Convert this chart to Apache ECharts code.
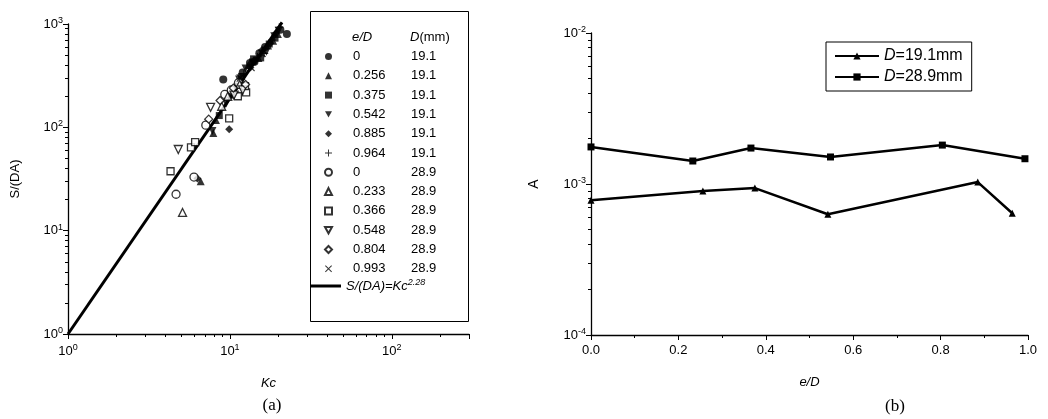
<!DOCTYPE html>
<html>
<head>
<meta charset="utf-8">
<script src="https://cdn.jsdelivr.net/npm/echarts@6/dist/echarts.min.js"></script>
<style>
  html, body { margin: 0; padding: 0; background: #fff; }
  #main { width: 1048px; height: 419px; }
</style>
</head>
<body>
<div id="main"></div>
<script>
// (a) S/(DA) vs Kc, one array of [Kc, S/(DA)] per e/D case
var filledCircle = [[22.5, 800], [9.1, 290], [16.5, 600], [12.0, 340], [14.2, 430], [20.5, 880], [13.3, 420], [15.2, 520]];
var filledTri = [[6.6, 30], [7.9, 88], [18.5, 690], [15.0, 470], [10.5, 230], [17.2, 620], [13.0, 400], [19.8, 800], [16.0, 560], [8.2, 118]];
var filledSquare = [[15.5, 470], [11.8, 310], [19.0, 730], [13.8, 430], [8.6, 130], [17.5, 640], [10.2, 205], [14.0, 460]];
var filledTriDown = [[16.8, 540], [20.0, 860], [12.5, 370], [9.5, 170], [14.6, 440], [18.8, 760], [11.4, 290], [7.8, 92]];
var filledDiamond = [[9.9, 96], [6.3, 32], [13.4, 380], [17.8, 650], [11.0, 250], [15.8, 560], [19.3, 820]];
var plusPts = [[18.2, 700], [10.8, 220], [14.8, 480], [12.2, 330], [16.3, 520], [20.2, 930]];
var openCircle = [[9.3, 208], [7.1, 105], [6.0, 33], [4.65, 22.5], [10.2, 230], [11.3, 270]];
var openTri = [[5.1, 15], [11.5, 260], [9.7, 200], [8.9, 160]];
var openSquare = [[12.6, 218], [12.4, 250], [9.9, 122], [5.75, 64], [6.1, 72], [4.3, 37.6], [11.2, 200]];
var openTriDown = [[7.6, 156], [4.8, 61], [10.6, 205], [12.0, 230]];
var openDiamond = [[8.7, 182], [7.4, 120], [10.5, 240], [12.5, 260]];
var crossPts = [[13.5, 380], [15.8, 520], [11.6, 300]];
var fitLine = [[1, 1], [21, 1035]];

// legend table rows: e/D, D(mm)
var legendED = ['0', '0.256', '0.375', '0.542', '0.885', '0.964', '0', '0.233', '0.366', '0.548', '0.804', '0.993'];
var legendD = ['19.1', '19.1', '19.1', '19.1', '19.1', '19.1', '28.9', '28.9', '28.9', '28.9', '28.9', '28.9'];

// (b) A vs e/D
var eD19 = [0, 0.256, 0.375, 0.542, 0.885, 0.964];
var A19 = [7.8e-4, 9.0e-4, 9.4e-4, 6.3e-4, 1.03e-3, 6.4e-4];
var eD28 = [0, 0.233, 0.366, 0.548, 0.804, 0.993];
var A28 = [1.76e-3, 1.42e-3, 1.73e-3, 1.51e-3, 1.81e-3, 1.47e-3];

var FONT = 'Liberation Sans, Arial, sans-serif';

function minorLog(lo, hi) { // 2..9 of each decade
    var out = [];
    for (var d = lo; d < hi; d *= 10) {
        for (var k = 2; k <= 9; k++) {
            var v = +(k * d).toPrecision(3);
            if (v < hi) out.push(v);
        }
    }
    return out;
}

function powLabel(v) {
    var e = Math.round(Math.log10(v));
    if (Math.abs(Math.log10(v) - e) > 1e-6) return '';
    return '10{s|' + e + '}';
}

var supRich = { s: { fontSize: 9, fontFamily: FONT, color: '#000', padding: [0, 0, 7, 0] } };

var plusPath = 'path://M4.3,0H5.7V4.3H10V5.7H5.7V10H4.3V5.7H0V4.3H4.3Z';
var crossPath = 'path://M1,0L5,4L9,0L10,1L6,5L10,9L9,10L5,6L1,10L0,9L4,5L0,1Z';
var triDownPath = 'path://M0,0L10,0L5,9Z';

function scatterSeries(idx, data, symbol, filled) {
    return {
        name: legendED[idx] + '|' + legendD[idx],
        type: 'scatter',
        xAxisIndex: 0, yAxisIndex: 0,
        data: data,
        symbol: symbol,
        symbolSize: (symbol === 'rect') ? 7 : 8,
        itemStyle: filled ? { color: '#000' } : { color: '#fff', borderColor: '#000', borderWidth: 1.3 }
    };
}

var myChart = echarts.init(document.getElementById('main'), null, { renderer: 'canvas' });

var axisLine = { show: true, lineStyle: { color: '#000', width: 1.3 } };
var axisLabelStyle = { color: '#000', fontSize: 13, fontFamily: FONT };

myChart.setOption({
    animation: false,
    backgroundColor: '#fff',
    grid: [
        { left: 68, top: 24, width: 401, height: 310 },
        { left: 591, top: 33, width: 437, height: 302 }
    ],
    xAxis: [
        {
            gridIndex: 0, type: 'log', logBase: 10, min: 1, max: 300, position: 'bottom',
            name: 'Kc', nameLocation: 'middle', nameGap: 43,
            nameTextStyle: { color: '#000', fontSize: 13, fontStyle: 'italic', fontFamily: FONT },
            axisLine: axisLine,
            axisTick: { show: true, length: 5, lineStyle: { color: '#000' } },
            axisLabel: Object.assign({ formatter: powLabel, rich: supRich, margin: 9 }, axisLabelStyle),
            splitLine: { show: false }
        },
        {
            gridIndex: 0, type: 'log', logBase: 10, min: 1, max: 300, position: 'bottom',
            axisLine: { show: false },
            axisTick: { show: true, length: 3, customValues: minorLog(1, 300), lineStyle: { color: '#000' } },
            axisLabel: { show: false }, splitLine: { show: false }
        },
        {
            gridIndex: 1, type: 'value', min: 0, max: 1, interval: 0.2, position: 'bottom',
            name: 'e/D', nameLocation: 'middle', nameGap: 41,
            nameTextStyle: { color: '#000', fontSize: 13, fontStyle: 'italic', fontFamily: FONT },
            axisLine: axisLine,
            axisTick: { show: true, length: 5, lineStyle: { color: '#000' } },
            minorTick: { show: true, splitNumber: 2, length: 3, lineStyle: { color: '#000' } },
            axisLabel: Object.assign({ formatter: function (v) { return v.toFixed(1); }, margin: 9 }, axisLabelStyle),
            splitLine: { show: false }
        }
    ],
    yAxis: [
        {
            gridIndex: 0, type: 'log', logBase: 10, min: 1, max: 1000, position: 'left',
            name: 'S/(DA)', nameLocation: 'middle', nameGap: 46, nameRotate: 90,
            nameTextStyle: { color: '#000', fontSize: 13, fontFamily: FONT },
            axisLine: axisLine,
            axisTick: { show: true, length: 5, lineStyle: { color: '#000' } },
            axisLabel: Object.assign({ formatter: powLabel, rich: supRich, margin: 5 }, axisLabelStyle),
            splitLine: { show: false }
        },
        {
            gridIndex: 0, type: 'log', logBase: 10, min: 1, max: 1000, position: 'left',
            axisLine: { show: false },
            axisTick: { show: true, length: 3, customValues: minorLog(1, 1000), lineStyle: { color: '#000' } },
            axisLabel: { show: false }, splitLine: { show: false }
        },
        {
            gridIndex: 1, type: 'log', logBase: 10, min: 1e-4, max: 1e-2, position: 'left',
            name: 'A', nameLocation: 'middle', nameGap: 50, nameRotate: 90,
            nameTextStyle: { color: '#000', fontSize: 14, fontFamily: FONT },
            axisLine: axisLine,
            axisTick: { show: true, length: 5, lineStyle: { color: '#000' } },
            axisLabel: Object.assign({ formatter: powLabel, rich: supRich, margin: 5 }, axisLabelStyle),
            splitLine: { show: false }
        },
        {
            gridIndex: 1, type: 'log', logBase: 10, min: 1e-4, max: 1e-2, position: 'left',
            axisLine: { show: false },
            axisTick: { show: true, length: 3, customValues: minorLog(1e-4, 1e-2), lineStyle: { color: '#000' } },
            axisLabel: { show: false }, splitLine: { show: false }
        }
    ],
    legend: [
        {
            orient: 'vertical', left: 324, top: 50, padding: 0,
            itemWidth: 7, itemHeight: 7, itemGap: 6.3,
            selectedMode: false,
            data: legendED.map(function (e, i) { return e + '|' + legendD[i]; }),
            formatter: function (name) {
                var p = name.split('|');
                return '{p| }{v|' + p[0] + '}{d|' + p[1] + '}';
            },
            textStyle: {
                color: '#000', fontSize: 13, fontFamily: FONT,
                rich: {
                    p: { width: 16, lineHeight: 14 },
                    v: { width: 58, fontSize: 13, lineHeight: 14, fontFamily: FONT },
                    d: { fontSize: 13, lineHeight: 14, fontFamily: FONT }
                }
            }
        },
        {
            orient: 'vertical', left: 311, top: 278, padding: 0,
            itemWidth: 30, itemHeight: 3,
            selectedMode: false,
            data: [{ name: 'fit', icon: 'rect' }],
            formatter: function () { return 'S/(DA)=Kc{s|2.28}'; },
            textStyle: {
                color: '#000', fontSize: 13, fontStyle: 'italic', fontFamily: FONT,
                rich: { s: { fontSize: 9, fontFamily: FONT, padding: [0, 0, 7, 0] } }
            }
        },
        {
            orient: 'vertical', left: 826, top: 42,
            itemWidth: 44, itemHeight: 9, itemGap: 5,
            padding: [6, 9, 6, 8],
            borderColor: '#000', borderWidth: 1,
            selectedMode: false,
            data: ['D=19.1mm', 'D=28.9mm'],
            formatter: function (name) { return '{i|D}' + name.slice(1); },
            textStyle: {
                color: '#000', fontSize: 16, fontFamily: FONT,
                rich: { i: { fontStyle: 'italic', fontSize: 16, fontFamily: FONT } }
            }
        }
    ],
    graphic: [
        { type: 'rect', shape: { x: 310.5, y: 11.5, width: 158, height: 310 }, style: { fill: 'none', stroke: '#000', lineWidth: 1 }, silent: true },
        { type: 'text', x: 352, y: 37, style: { text: 'e/D', fontSize: 13, fontStyle: 'italic', fontFamily: FONT, fill: '#000', verticalAlign: 'middle' } },
        { type: 'text', x: 410, y: 37, style: { text: '{i|D}(mm)', fontSize: 13, fontFamily: FONT, fill: '#000', verticalAlign: 'middle', rich: { i: { fontStyle: 'italic', fontSize: 13, fontFamily: FONT } } } },
        { type: 'text', x: 272, y: 406, style: { text: '(a)', fontSize: 17, fontFamily: 'Liberation Serif, Times New Roman, serif', fill: '#000', align: 'center', verticalAlign: 'middle' } },
        { type: 'text', x: 895, y: 407, style: { text: '(b)', fontSize: 17, fontFamily: 'Liberation Serif, Times New Roman, serif', fill: '#000', align: 'center', verticalAlign: 'middle' } }
    ],
    series: [
        scatterSeries(0, filledCircle, 'circle', true),
        scatterSeries(1, filledTri, 'triangle', true),
        scatterSeries(2, filledSquare, 'rect', true),
        scatterSeries(3, filledTriDown, triDownPath, true),
        scatterSeries(4, filledDiamond, 'diamond', true),
        scatterSeries(5, plusPts, plusPath, true),
        scatterSeries(6, openCircle, 'circle', false),
        scatterSeries(7, openTri, 'triangle', false),
        scatterSeries(8, openSquare, 'rect', false),
        scatterSeries(9, openTriDown, triDownPath, false),
        scatterSeries(10, openDiamond, 'diamond', false),
        scatterSeries(11, crossPts, crossPath, true),
        {
            name: 'fit', type: 'line', xAxisIndex: 0, yAxisIndex: 0,
            data: fitLine, showSymbol: false, symbol: 'none', clip: false,
            lineStyle: { color: '#000', width: 3 }, itemStyle: { color: '#000' }, z: 1
        },
        {
            name: 'D=19.1mm', type: 'line', xAxisIndex: 2, yAxisIndex: 2,
            data: eD19.map(function (x, i) { return [x, A19[i]]; }),
            symbol: 'triangle', symbolSize: 7,
            lineStyle: { color: '#000', width: 2.5 }, itemStyle: { color: '#000' }
        },
        {
            name: 'D=28.9mm', type: 'line', xAxisIndex: 2, yAxisIndex: 2,
            data: eD28.map(function (x, i) { return [x, A28[i]]; }),
            symbol: 'rect', symbolSize: 7,
            lineStyle: { color: '#000', width: 2.5 }, itemStyle: { color: '#000' }
        }
    ]
});
</script>
</body>
</html>
